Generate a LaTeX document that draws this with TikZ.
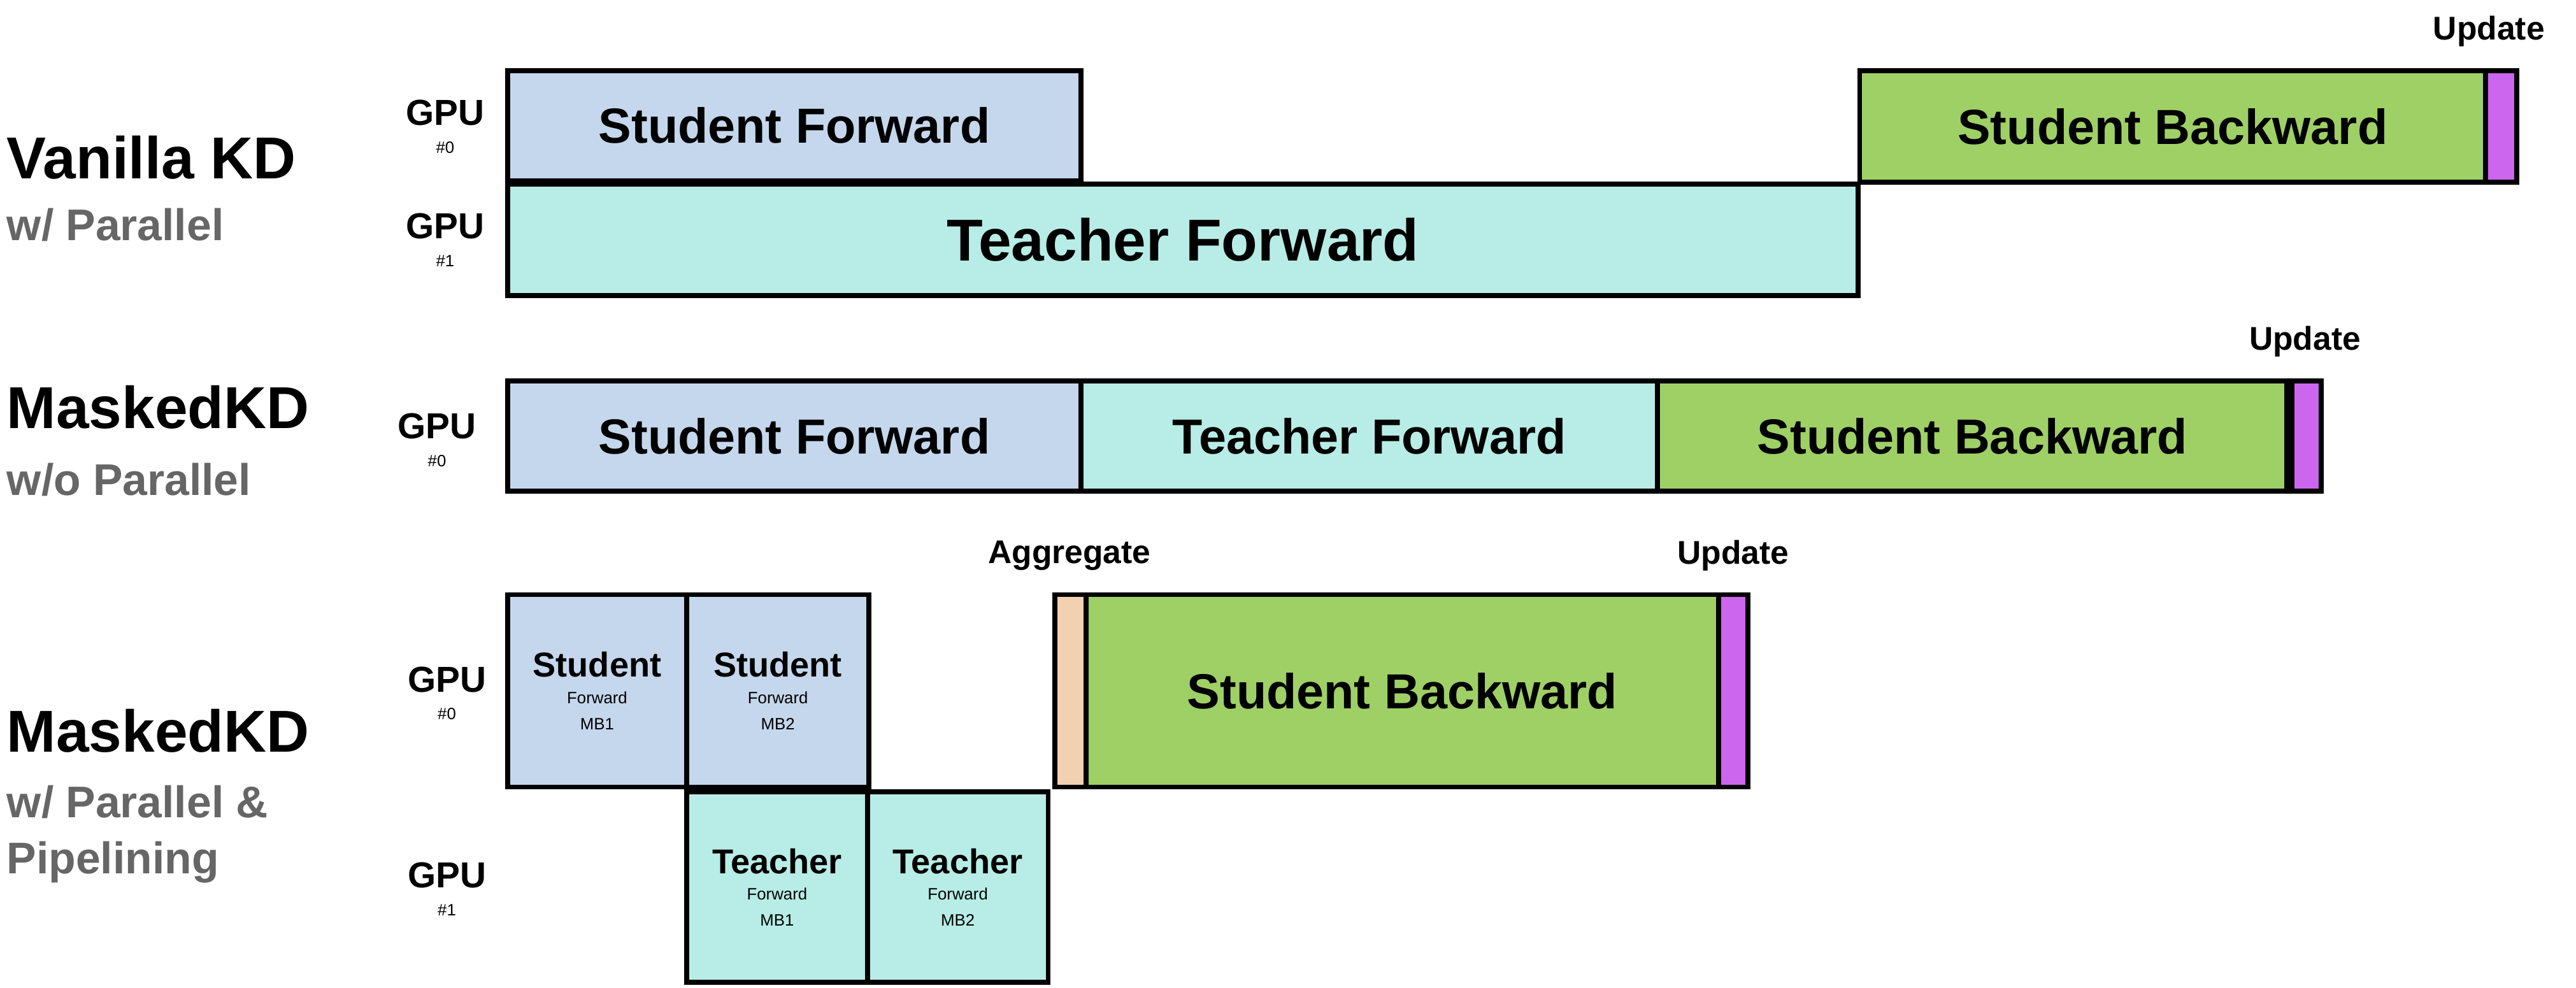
\documentclass[tikz,border=0pt]{standalone}
\usepackage{fontspec}
\setmainfont{Liberation Sans}
\definecolor{sblue}{HTML}{C5D7EC}
\definecolor{tteal}{HTML}{B7EDE6}
\definecolor{bgreen}{HTML}{9FD066}
\definecolor{upurp}{HTML}{CC66EE}
\definecolor{apeach}{HTML}{F2D0B2}
\definecolor{lgrey}{HTML}{666666}
\newcommand\fs[1]{\fontsize{#1}{#1}\selectfont\bfseries}
\newcommand\bx[8]{\node[blk,fill=#6,minimum width={(#4-#2)*1pt},minimum height={(#5-#3)*1pt}] (#1) at ({(#2+#4)/2},{-(#3+#5)/2}) {\fs{#8}#7};}
\tikzset{blk/.style={draw=black,line width=3pt,inner sep=0pt,outer sep=0pt,align=center,text=black},
 lab/.style={inner sep=0pt,align=center,text=black},
 ttl/.style={inner sep=0pt,anchor=west,text=black},
 sub/.style={inner sep=0pt,anchor=west,text=lgrey}}
\begin{document}
\begin{tikzpicture}[x=1pt,y=1pt]
\useasboundingbox[fill=white] (0,0) rectangle (1568,-601);
% Row 1
\bx{sf1}{309}{43}{658}{110}{sblue}{Student Forward}{30}
\bx{tf1}{309}{112}{1131}{180}{tteal}{Teacher Forward}{36}
\bx{sb1}{1132}{43}{1513}{111}{bgreen}{Student Backward}{30}
\bx{up1}{1513}{43}{1532}{111}{upurp}{}{10}
\node[lab] (upl1) at (1515,-19) {\fs{20}Update};
\node[lab] (g10) at (271,-77) {\fs{22}GPU\\[5pt]\#0};
\node[lab] (g11) at (271,-146) {\fs{22}GPU\\[5pt]\#1};
\node[ttl] (t1) at (4,-96) {\fs{36}Vanilla KD};
\node[sub] (s1) at (4,-137) {\fs{27}w/ Parallel};
% Row 2
\bx{sf2}{309}{232}{658}{299}{sblue}{Student Forward}{30}
\bx{tf2}{658}{232}{1009}{299}{tteal}{Teacher Forward}{30}
\bx{sb2}{1009}{232}{1392}{299}{bgreen}{Student Backward}{30}
\bx{up2}{1395}{232}{1413}{299}{upurp}{}{10}
\node[lab] (upl2) at (1403,-208) {\fs{20}Update};
\node[lab] (g20) at (266,-268) {\fs{22}GPU\\[5pt]\#0};
\node[ttl] (t2) at (4,-248) {\fs{36}MaskedKD};
\node[sub] (s2) at (4,-292) {\fs{27}w/o Parallel};
% Row 3
\bx{sm1}{309}{362}{418}{479}{sblue}{Student\\[4pt]Forward\\[4pt]MB1}{21}
\bx{sm2}{418}{362}{529}{479}{sblue}{Student\\[4pt]Forward\\[4pt]MB2}{21}
\bx{ag3}{642}{362}{661}{479}{apeach}{}{10}
\bx{sb3}{661}{362}{1046}{479}{bgreen}{Student Backward}{30}
\bx{up3}{1046}{362}{1064}{479}{upurp}{}{10}
\bx{tm1}{418}{482}{528}{598}{tteal}{Teacher\\[4pt]Forward\\[4pt]MB1}{21}
\bx{tm2}{528}{482}{638}{598}{tteal}{Teacher\\[4pt]Forward\\[4pt]MB2}{21}
\node[lab] (agl) at (651,-338) {\fs{20}Aggregate};
\node[lab] (upl3) at (1055,-338) {\fs{20}Update};
\node[lab] (g30) at (272,-422) {\fs{22}GPU\\[5pt]\#0};
\node[lab] (g31) at (272,-541) {\fs{22}GPU\\[5pt]\#1};
\node[ttl] (t3) at (4,-445) {\fs{36}MaskedKD};
\node[sub] (s3a) at (4,-488) {\fs{27}w/ Parallel \&};
\node[sub] (s3b) at (4,-525) {\fs{27}Pipelining};
\end{tikzpicture}
\end{document}
